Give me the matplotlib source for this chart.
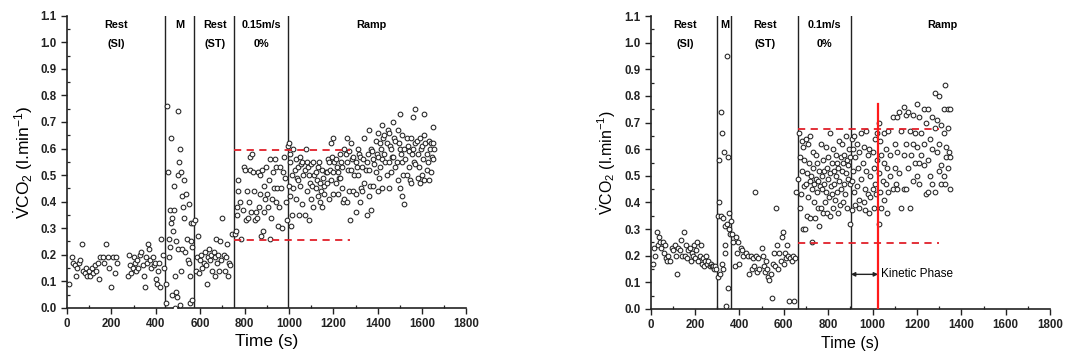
import matplotlib
matplotlib.use("Agg")
import matplotlib.pyplot as plt
from matplotlib.ticker import MultipleLocator

plt.rcParams['font.family'] = ['Liberation Sans', 'DejaVu Sans']
plt.rcParams['mathtext.fontset'] = 'custom'
plt.rcParams['mathtext.rm'] = 'Liberation Sans'
plt.rcParams['mathtext.it'] = 'Liberation Sans'

# ---- left panel data (time s, VCO2 l/min) ----
t_left = [10, 20, 25, 35, 40, 45, 55, 60, 65, 70, 80, 85, 90, 100, 105, 110, 115, 125, 130, 140,
          145, 150, 160, 165, 175, 185, 190, 200, 205, 215, 220, 225,
          275, 280, 285, 290, 295, 300, 305, 310, 315, 320, 330, 335, 340, 345, 350, 355, 360, 365,
          370, 375, 380, 385, 390, 395, 400, 405, 410, 415, 420, 425, 430, 435,
          445, 448, 450, 455, 458, 460, 462, 465, 468, 470, 472, 475, 478, 480, 483, 485, 488, 490,
          492, 495, 498, 500, 502, 505, 508, 510, 512, 515, 518, 520, 523, 525, 528, 530, 535, 540,
          545, 548, 550, 552, 555, 558, 560, 562, 565, 568,
          575, 580, 585, 590, 595, 600, 605, 610, 615, 620, 625, 630, 635, 640, 645, 650, 655, 660,
          665, 668, 672, 675, 680, 685, 690, 695, 700, 705, 710, 715, 720, 725, 730, 735, 745,
          757, 762, 766, 768, 770, 772, 778, 784, 793, 796, 800, 806, 811, 814, 818, 823, 826, 829,
          833, 838, 844, 848, 853, 856, 859, 863, 868, 871, 875, 878, 883, 886, 889, 893, 896, 901,
          904, 908, 913, 916, 919, 923, 928, 931, 935, 940, 943, 947, 952, 955, 961, 965, 970, 975,
          979, 984, 988, 991, 994,
          1000, 1000, 1003, 1005, 1005, 1010, 1015, 1015, 1020, 1020, 1025, 1030, 1030, 1035, 1040,
          1040, 1045, 1050, 1050, 1055, 1060, 1060, 1065, 1070, 1070, 1075, 1080, 1080, 1085, 1090,
          1090, 1095, 1100, 1100, 1105, 1110, 1110, 1115, 1120, 1120, 1125, 1130, 1130, 1135, 1140,
          1140, 1145, 1150, 1150, 1155, 1160, 1160, 1165, 1170, 1170, 1175, 1180, 1180, 1185, 1190,
          1190, 1195, 1200, 1200, 1200, 1205, 1210, 1210, 1215, 1220, 1220, 1225, 1230, 1230, 1235,
          1240, 1240, 1245, 1250, 1250, 1255, 1260, 1260, 1260, 1265, 1270, 1270, 1275, 1280, 1280,
          1285, 1290, 1290, 1295, 1300, 1300, 1300, 1305, 1310, 1310, 1315, 1320, 1320, 1325, 1330,
          1330, 1335, 1340, 1340, 1345, 1350, 1350, 1355, 1360, 1360, 1360, 1365, 1370, 1370, 1375,
          1380, 1380, 1385, 1390, 1390, 1395, 1400, 1400, 1400, 1405, 1410, 1410, 1415, 1420, 1420,
          1420, 1425, 1430, 1430, 1435, 1440, 1440, 1445, 1450, 1450, 1450, 1455, 1460, 1460, 1465,
          1470, 1470, 1475, 1480, 1480, 1485, 1490, 1490, 1495, 1500, 1500, 1500, 1505, 1510, 1510,
          1510, 1515, 1520, 1520, 1525, 1530, 1530, 1535, 1540, 1540, 1545, 1550, 1550, 1555, 1560,
          1560, 1565, 1570, 1570, 1570, 1575, 1580, 1580, 1585, 1590, 1590, 1595, 1600, 1600, 1605,
          1610, 1610, 1610, 1615, 1620, 1620, 1625, 1630, 1630, 1635, 1640, 1640, 1645, 1650, 1650,
          1650, 1655]
v_left = [0.09, 0.19, 0.17, 0.16, 0.12, 0.15, 0.17, 0.18, 0.24, 0.14, 0.13, 0.15, 0.12, 0.14, 0.12,
          0.15, 0.13, 0.16, 0.14, 0.17, 0.11, 0.19, 0.19, 0.17, 0.24, 0.19, 0.15, 0.08, 0.19, 0.13,
          0.19, 0.17,
          0.12, 0.20, 0.16, 0.13, 0.15, 0.19, 0.17, 0.14, 0.18, 0.15, 0.20, 0.21, 0.16, 0.12, 0.08,
          0.19, 0.17, 0.24, 0.22, 0.18, 0.15, 0.19, 0.16, 0.17, 0.11, 0.09, 0.14, 0.17, 0.08, 0.26,
          0.20, 0.15,
          0.02, 0.09, 0.76, 0.51, 0.19, 0.26, 0.37, 0.23, 0.64, 0.32, 0.05, 0.34, 0.29, 0.37, 0.46,
          0.12, 0.00, 0.06, 0.25, 0.04, 0.74, 0.22, 0.50, 0.55, 0.60, 0.01, 0.14, 0.51, 0.22, 0.42,
          0.38, 0.34, 0.48, 0.21, 0.43, 0.26, 0.18, 0.39, 0.17, 0.12, 0.02, 0.25, 0.32, 0.03, 0.23,
          0.32,
          0.33, 0.14, 0.19, 0.27, 0.13, 0.18, 0.20, 0.15, 0.17, 0.21, 0.16, 0.09, 0.19, 0.22, 0.18,
          0.20, 0.14, 0.21, 0.19, 0.12, 0.26, 0.17, 0.20, 0.14, 0.25, 0.18, 0.34, 0.20, 0.14, 0.19,
          0.24, 0.12, 0.17, 0.16, 0.28,
          0.28, 0.29, 0.35, 0.38, 0.44, 0.48, 0.40, 0.26, 0.37, 0.53, 0.52, 0.33, 0.44, 0.34, 0.40,
          0.57, 0.52, 0.36, 0.58, 0.51, 0.44, 0.33, 0.36, 0.34, 0.51, 0.38, 0.50, 0.43, 0.27, 0.52,
          0.29, 0.46, 0.36, 0.41, 0.53, 0.43, 0.38, 0.48, 0.56, 0.26, 0.34, 0.41, 0.51, 0.45, 0.56,
          0.40, 0.53, 0.45, 0.31, 0.38, 0.53, 0.45, 0.30, 0.51, 0.57, 0.49, 0.40, 0.33, 0.61,
          0.62, 0.46, 0.58, 0.55, 0.42, 0.31, 0.50, 0.35, 0.60, 0.45, 0.52, 0.56, 0.41, 0.49, 0.53,
          0.48, 0.35, 0.57, 0.46, 0.54, 0.55, 0.39, 0.50, 0.52, 0.35, 0.60, 0.55, 0.44, 0.53, 0.50,
          0.33, 0.47, 0.54, 0.41, 0.46, 0.55, 0.38, 0.50, 0.51, 0.45, 0.48, 0.53, 0.42, 0.55, 0.47,
          0.40, 0.44, 0.52, 0.38, 0.49, 0.46, 0.43, 0.51, 0.51, 0.47, 0.56, 0.55, 0.41, 0.52, 0.62,
          0.48, 0.57, 0.64, 0.51, 0.43, 0.55, 0.56, 0.47, 0.53, 0.51, 0.43, 0.49, 0.58, 0.49, 0.55,
          0.53, 0.45, 0.40, 0.60, 0.41, 0.58, 0.64, 0.55, 0.40, 0.52, 0.59, 0.44, 0.33, 0.62, 0.52,
          0.56, 0.57, 0.44, 0.50, 0.55, 0.43, 0.36, 0.53, 0.60, 0.50, 0.58, 0.57, 0.40, 0.45, 0.53,
          0.44, 0.56, 0.64, 0.47, 0.52, 0.55, 0.35, 0.58, 0.67, 0.52, 0.42, 0.46, 0.60, 0.37, 0.59,
          0.56, 0.46, 0.54, 0.63, 0.51, 0.58, 0.66, 0.57, 0.44, 0.49, 0.62, 0.53, 0.60, 0.69, 0.56,
          0.45, 0.64, 0.65, 0.58, 0.55, 0.62, 0.50, 0.67, 0.66, 0.55, 0.45, 0.61, 0.60, 0.51, 0.57,
          0.70, 0.57, 0.64, 0.63, 0.53, 0.55, 0.67, 0.48, 0.62, 0.73, 0.60, 0.45, 0.58, 0.65, 0.55,
          0.42, 0.50, 0.60, 0.39, 0.56, 0.64, 0.50, 0.61, 0.59, 0.53, 0.48, 0.64, 0.47, 0.58, 0.72,
          0.60, 0.55, 0.75, 0.62, 0.54, 0.63, 0.58, 0.49, 0.53, 0.64, 0.47, 0.60, 0.61, 0.50, 0.56,
          0.73, 0.65, 0.48, 0.62, 0.58, 0.52, 0.55, 0.63, 0.48, 0.60, 0.62, 0.51, 0.57, 0.68, 0.56,
          0.62, 0.60]

# ---- right panel data ----
t_right = [10, 15, 20, 28, 32, 38, 42, 48, 55, 60, 65, 70, 75, 80, 88, 95, 100, 108, 115, 120,
           125, 130, 138, 142, 148, 155, 160, 165, 170, 175, 180, 185, 190, 195, 200, 205, 210, 215,
           220, 225, 230, 235, 240, 245, 250, 255, 260, 265, 270, 275, 280, 285, 290, 295,
           302, 304, 306, 310, 312, 315, 318, 320, 322, 325, 328, 330, 333, 335, 337, 340, 342, 345,
           347, 350, 352, 355, 358, 360,
           365, 372, 378, 385, 390, 395, 400, 408, 412, 418, 430, 440, 445, 450, 455, 460, 465, 470,
           475, 480, 485, 490, 500, 505, 510, 515, 520, 525, 530, 535, 540, 545, 550, 555, 560, 565,
           570, 575, 580, 585, 590, 595, 600, 605, 610, 615, 620, 625, 630, 635, 640, 645, 650, 655,
           665, 670, 672, 675, 678, 680, 683, 686, 688, 690, 693, 695, 698, 700, 703, 705, 708, 710,
           713, 716, 718, 720, 723, 725, 728, 730, 733, 736, 738, 740, 743, 746, 748, 750, 753, 756,
           758, 760, 763, 766, 768, 770, 773, 776, 778, 780, 783, 786, 788, 790, 793, 796, 798, 800,
           803, 806, 808, 810, 813, 816, 818, 820, 823, 826, 828, 830, 833, 836, 838, 840, 843, 846,
           848, 850, 853, 856, 858, 860, 863, 866, 868, 870, 873, 876, 878, 880, 883, 886, 888, 890,
           893, 896, 898, 900,
           905, 905, 905, 910, 910, 915, 915, 920, 920, 930, 930, 935, 940, 940, 940, 950, 950, 955,
           960, 960, 965, 965, 970, 970, 980, 980, 985, 985, 990, 990, 1000, 1000, 1005, 1005, 1010,
           1010, 1015, 1020, 1020, 1030, 1030, 1030, 1035, 1035, 1040, 1040, 1045, 1050, 1050, 1050,
           1060, 1060, 1065, 1065, 1070, 1070, 1080, 1080, 1090, 1090, 1100, 1100, 1105, 1110, 1110,
           1110, 1120, 1120, 1130, 1130, 1140, 1140, 1140, 1150, 1150, 1150, 1160, 1160, 1170, 1170,
           1175, 1180, 1180, 1180, 1190, 1190, 1200, 1200, 1200, 1210, 1210, 1210, 1220, 1220, 1230,
           1230, 1230, 1240, 1240, 1250, 1250, 1250, 1260, 1260, 1270, 1270, 1270, 1280, 1280, 1280,
           1290, 1290, 1300, 1300, 1300, 1310, 1310, 1310, 1320, 1320, 1320, 1325, 1325, 1330, 1330,
           1340, 1340, 1340, 1345, 1350, 1350, 1350]
v_right = [0.17, 0.23, 0.20, 0.29, 0.24, 0.27, 0.25, 0.23, 0.25, 0.21, 0.24, 0.19, 0.18, 0.20, 0.18,
           0.23, 0.22, 0.24, 0.20, 0.13, 0.23, 0.22, 0.26, 0.20, 0.29, 0.20, 0.24, 0.19, 0.22, 0.23,
           0.18, 0.21, 0.20, 0.24, 0.19, 0.22, 0.25, 0.18, 0.20, 0.24, 0.17, 0.19, 0.16, 0.18, 0.20,
           0.17, 0.18, 0.16, 0.17, 0.16, 0.16, 0.15, 0.16, 0.15,
           0.12, 0.35, 0.40, 0.56, 0.13, 0.74, 0.35, 0.66, 0.17, 0.15, 0.34, 0.59, 0.24, 0.31, 0.21,
           0.01, 0.32, 0.95, 0.57, 0.08, 0.30, 0.36, 0.28, 0.33,
           0.28, 0.25, 0.16, 0.27, 0.21, 0.25, 0.17, 0.23, 0.22, 0.20, 0.21, 0.20, 0.13, 0.20, 0.15,
           0.19, 0.16, 0.44, 0.20, 0.14, 0.19, 0.15, 0.23, 0.20, 0.16, 0.14, 0.18, 0.15, 0.12, 0.11,
           0.13, 0.04, 0.17, 0.21, 0.16, 0.38, 0.24, 0.15, 0.21, 0.18, 0.27, 0.29, 0.17, 0.21, 0.19,
           0.24, 0.20, 0.03, 0.19, 0.18, 0.20, 0.03, 0.19, 0.44,
           0.49, 0.66, 0.38, 0.57, 0.43, 0.63, 0.52, 0.30, 0.61, 0.46, 0.56, 0.30, 0.64, 0.47, 0.35,
           0.51, 0.62, 0.42, 0.55, 0.34, 0.48, 0.65, 0.50, 0.25, 0.45, 0.59, 0.53, 0.40, 0.47, 0.34,
           0.58, 0.49, 0.44, 0.55, 0.38, 0.48, 0.31, 0.52, 0.46, 0.62, 0.38, 0.50, 0.45, 0.56, 0.36,
           0.47, 0.52, 0.40, 0.61, 0.44, 0.53, 0.36, 0.49, 0.57, 0.42, 0.51, 0.66, 0.35, 0.46, 0.55,
           0.43, 0.60, 0.38, 0.52, 0.47, 0.41, 0.58, 0.50, 0.44, 0.55, 0.36, 0.53, 0.63, 0.48, 0.39,
           0.57, 0.45, 0.52, 0.62, 0.40, 0.55, 0.47, 0.58, 0.43, 0.51, 0.65, 0.56, 0.38, 0.49, 0.54,
           0.60, 0.32, 0.47, 0.57,
           0.64, 0.48, 0.37, 0.60, 0.52, 0.65, 0.44, 0.57, 0.39, 0.62, 0.46, 0.53, 0.59, 0.41, 0.38,
           0.66, 0.49, 0.55, 0.61, 0.40, 0.45, 0.37, 0.67, 0.52, 0.58, 0.43, 0.60, 0.36, 0.50, 0.42,
           0.59, 0.45, 0.53, 0.38, 0.64, 0.47, 0.43, 0.56, 0.66, 0.70, 0.51, 0.32, 0.63, 0.44, 0.58,
           0.38, 0.48, 0.66, 0.55, 0.41, 0.60, 0.47, 0.53, 0.36, 0.67, 0.44, 0.58, 0.50, 0.72, 0.45,
           0.62, 0.53, 0.47, 0.72, 0.59, 0.45, 0.74, 0.51, 0.67, 0.38, 0.76, 0.58, 0.45, 0.73, 0.62,
           0.45, 0.74, 0.53, 0.67, 0.38, 0.58, 0.73, 0.62, 0.48, 0.66, 0.55, 0.77, 0.61, 0.50, 0.72,
           0.55, 0.47, 0.66, 0.58, 0.75, 0.62, 0.54, 0.70, 0.43, 0.75, 0.56, 0.44, 0.64, 0.50, 0.72,
           0.60, 0.47, 0.81, 0.68, 0.44, 0.71, 0.59, 0.80, 0.62, 0.52, 0.69, 0.54, 0.47, 0.75, 0.66,
           0.50, 0.84, 0.47, 0.61, 0.57, 0.75, 0.68, 0.53, 0.59, 0.75, 0.57, 0.45]

# phase boundaries and labels
bounds_left = [440, 570, 752, 995]
bounds_right = [298, 362, 662, 902]
labels_left = [(220, 'Rest', '(SI)'), (510, 'M', ''), (665, 'Rest', '(ST)'),
               (875, '0.15m/s', '0%'), (1370, 'Ramp', '')]
labels_right = [(155, 'Rest', '(SI)'), (332, 'M', ''), (515, 'Rest', '(ST)'),
                (785, '0.1m/s', '0%'), (1315, 'Ramp', '')]
dash_left = (752, 1275, 0.595, 0.255)
dash_right = (662, 1300, 0.675, 0.248)
kinetic_end = 1025

fig = plt.figure(figsize=(10.65, 3.58), dpi=100)
ax1 = fig.add_axes([0.063, 0.14, 0.375, 0.816])
ax2 = fig.add_axes([0.611, 0.137, 0.375, 0.818])


def style(ax, t, v, bounds, labels, dash, xfs):
    ax.plot(t, v, 'o', mfc='white', mec='#222222', ms=3.4, mew=0.75, zorder=3)
    for b in bounds:
        ax.axvline(b, color='#222222', lw=1.0, zorder=2)
    for x, a, b in labels:
        ax.text(x, 1.065, a, ha='center', va='center', fontsize=7.8, fontweight='bold')
        if b:
            ax.text(x, 0.995, b, ha='center', va='center', fontsize=7.8, fontweight='bold')
    x0, x1, y_hi, y_lo = dash
    ax.plot([x0, x1], [y_hi, y_hi], '--', color='#e0202a', lw=1.3, dashes=(4, 3), zorder=4)
    ax.plot([x0, x1], [y_lo, y_lo], '--', color='#e0202a', lw=1.3, dashes=(4, 3), zorder=4)
    ax.set_xlim(0, 1800)
    ax.set_ylim(0, 1.1)
    ax.xaxis.set_major_locator(MultipleLocator(200))
    ax.xaxis.set_minor_locator(MultipleLocator(100))
    ax.yaxis.set_major_locator(MultipleLocator(0.1))
    ax.yaxis.set_minor_locator(MultipleLocator(0.05))
    ax.yaxis.set_major_formatter(matplotlib.ticker.FormatStrFormatter('%.1f'))
    ax.spines['top'].set_visible(False)
    ax.spines['right'].set_visible(False)
    for s in ('left', 'bottom'):
        ax.spines[s].set_linewidth(1.2)
        ax.spines[s].set_color('#222222')
    ax.tick_params(which='major', direction='out', length=4, width=1.0, labelsize=8.3,
                   colors='#222222')
    ax.tick_params(which='minor', direction='in', length=2.5, width=0.9, colors='#222222')
    for lab in ax.get_xticklabels() + ax.get_yticklabels():
        lab.set_fontweight('bold')
    ax.set_xlabel('Time (s)', fontsize=xfs, labelpad=3)
    ax.set_ylabel(r'$\dot{\mathrm{V}}$CO$_2$ (l.min$^{-1}$)', fontsize=xfs, labelpad=4)


style(ax1, t_left, v_left, bounds_left, labels_left, dash_left, 12.5)
style(ax2, t_right, v_right, bounds_right, labels_right, dash_right, 11.5)

ax2.plot([kinetic_end, kinetic_end], [0, 0.77], color='#ff1a1a', lw=1.6, zorder=5)
ax2.annotate('', xy=(kinetic_end, 0.13), xytext=(bounds_right[-1], 0.13),
             arrowprops=dict(arrowstyle='<|-|>', color='#222222', lw=1.0, mutation_scale=6,
                             shrinkA=0, shrinkB=0))
ax2.text(kinetic_end + 12, 0.13, 'Kinetic Phase', ha='left', va='center', fontsize=8.5)

fig.savefig('out.png', dpi=100)
